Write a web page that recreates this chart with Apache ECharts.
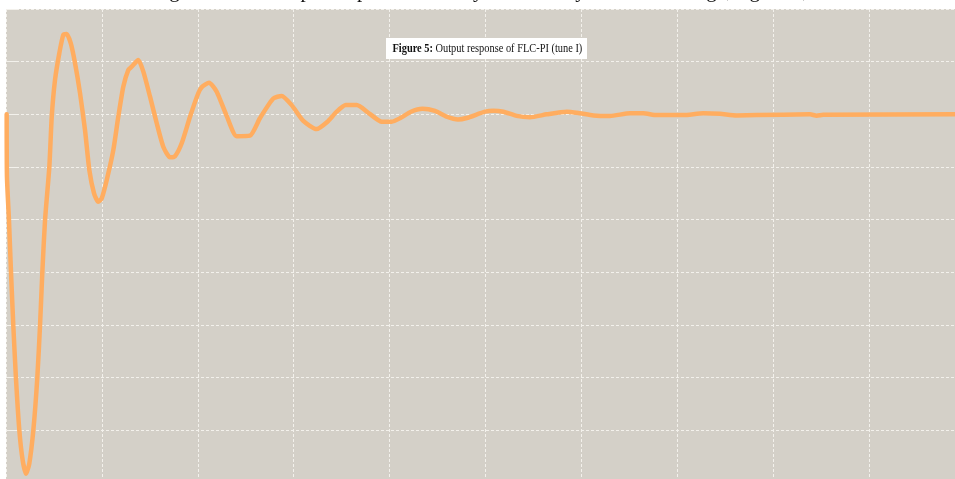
<!DOCTYPE html>
<html>
<head>
<meta charset="utf-8">
<script src="https://cdn.jsdelivr.net/npm/echarts@6/dist/echarts.min.js"></script>
<style>
  html, body { margin: 0; padding: 0; background: #ffffff; }
  #chart { width: 955px; height: 479px; }
</style>
</head>
<body>
<div id="chart"></div>
<script>
// Time (s) samples of the step response
const timeValues = [
  0.007, 0.010, 0.031, 0.052, 0.076, 0.104, 0.139, 0.174, 0.209, 0.243,
  0.285, 0.326, 0.355, 0.379, 0.407, 0.452, 0.477, 0.511, 0.556, 0.598,
  0.633, 0.675, 0.720, 0.772, 0.824, 0.869, 0.918, 0.962, 0.998, 1.050,
  1.119, 1.171, 1.223, 1.275, 1.311, 1.380, 1.432, 1.502, 1.571, 1.640,
  1.710, 1.762, 1.832, 1.919, 2.005, 2.044, 2.117, 2.197, 2.301, 2.406,
  2.544, 2.649, 2.787, 2.875, 2.979, 3.100, 3.238, 3.352, 3.448, 3.543,
  3.657, 3.785, 3.918, 4.022, 4.108, 4.223, 4.343, 4.473, 4.595, 4.713,
  4.804, 4.995, 5.081, 5.186, 5.325, 5.464, 5.638, 5.847, 5.985, 6.124,
  6.298, 6.507, 6.645, 6.785, 7.063, 7.271, 7.445, 7.619, 7.828, 8.384,
  8.453, 8.522, 9.950
];
// Output response values
const outputValues = [
  1.000, 0.762, 0.598, 0.402, 0.199, -0.004, -0.200, -0.314, -0.365, -0.326,
  -0.200, -0.004, 0.199, 0.402, 0.598, 0.801, 0.991, 1.130, 1.232, 1.302,
  1.305, 1.270, 1.194, 1.080, 0.940, 0.788, 0.700, 0.668, 0.681, 0.750,
  0.864, 0.991, 1.105, 1.168, 1.181, 1.206, 1.162, 1.067, 0.967, 0.877,
  0.837, 0.841, 0.890, 0.991, 1.080, 1.104, 1.120, 1.086, 0.994, 0.917,
  0.919, 0.986, 1.060, 1.070, 1.035, 0.975, 0.944, 0.972, 1.010, 1.035,
  1.035, 1.004, 0.972, 0.972, 0.985, 1.010, 1.021, 1.013, 0.991, 0.980,
  0.986, 1.010, 1.014, 1.010, 0.994, 0.989, 1.000, 1.010, 1.004, 0.996,
  0.994, 1.004, 1.004, 0.997, 0.997, 1.004, 1.002, 0.996, 0.997, 1.000,
  0.995, 0.998, 1.000
];
const figureLabel = 'Figure 5:';
const figureCaption = ' Output response of FLC-PI (tune I)';
const pageTextAbove = 'is given in the output response as the system clearly settles the range, figure 5, the';

const seriesData = timeValues.map((t, i) => [t, outputValues[i]]);

const chart = echarts.init(document.getElementById('chart'), null, { renderer: 'canvas' });
const gridLine = { show: true, lineStyle: { color: '#f3f1ec', width: 1, type: [3, 2] } };
chart.setOption({
  backgroundColor: '#ffffff',
  animation: false,
  grid: {
    show: true,
    left: 6, top: 9, width: 959, height: 474,
    backgroundColor: '#d4d0c8',
    borderWidth: 0,
    containLabel: false,
    outerBoundsMode: 'none'
  },
  xAxis: {
    type: 'value', min: 0, max: 10, interval: 1,
    axisLine: { show: false }, axisTick: { show: false }, axisLabel: { show: false },
    splitLine: gridLine
  },
  yAxis: {
    type: 'value', min: -0.4, max: 1.4, interval: 0.2,
    axisLine: { show: false },
    axisTick: { show: true, inside: true, length: 10, lineStyle: { color: '#f3f1ec', width: 1 } },
    axisLabel: { show: false },
    splitLine: gridLine
  },
  series: [{
    type: 'line',
    data: seriesData,
    showSymbol: false,
    smooth: 0.2,
    clip: true,
    lineStyle: { color: '#ffad60', width: 4.5, cap: 'round', join: 'round' }
  }],
  graphic: [
    {
      type: 'text', left: 150, top: -19, silent: true, z: 100,
      style: { text: pageTextAbove, font: '21px "Liberation Serif"', fill: '#111111' }
    },
    {
      type: 'rect', silent: true, z: 100,
      shape: { x: 386, y: 38, width: 201, height: 21 },
      style: { fill: '#ffffff' }
    },
    {
      type: 'group', x: 392.5, y: 49, scaleX: 0.865, silent: true, z: 101,
      children: [{
        type: 'text', x: 0, y: 0, z: 101,
        style: {
          text: '{b|' + figureLabel + '}' + figureCaption,
          font: '12px "Liberation Serif"', fill: '#111111',
          verticalAlign: 'middle',
          rich: { b: { font: 'bold 12px "Liberation Serif"', fill: '#111111' } }
        }
      }]
    }
  ]
});
</script>
</body>
</html>
